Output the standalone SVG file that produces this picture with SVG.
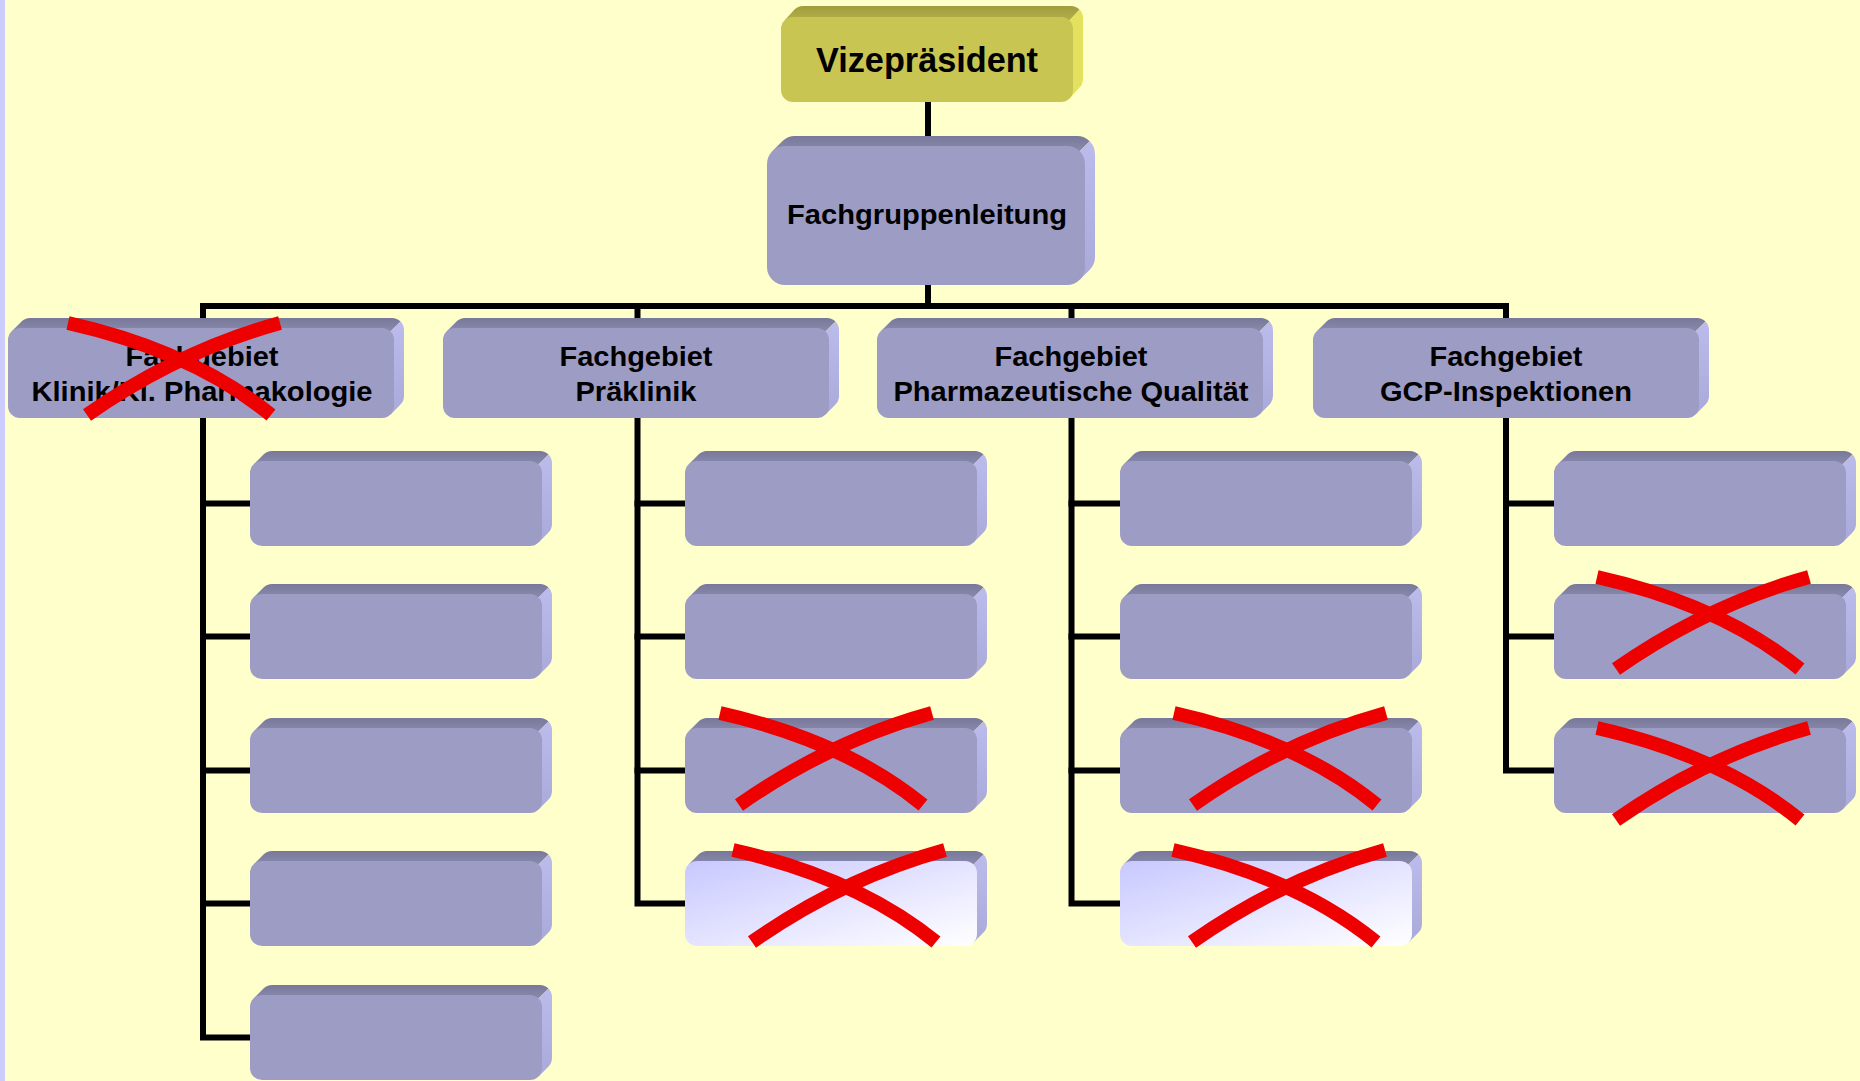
<svg xmlns="http://www.w3.org/2000/svg" xmlns:xlink="http://www.w3.org/1999/xlink" width="1860" height="1081" viewBox="0 0 1860 1081">
<style>
.t{font-family:"Liberation Sans",Arial,sans-serif;font-weight:bold;fill:#000;text-anchor:middle}
.t2{font-size:28px}
.t1{font-size:35px}
.conn{fill:none;stroke:#000;stroke-width:6;stroke-linecap:square;stroke-linejoin:miter}
.x{fill:none;stroke:#EE0000;stroke-width:14}
</style>
<defs>
<linearGradient id="gTop" x1="0" y1="0" x2="0" y2="1"><stop offset="0" stop-color="#78789A"/><stop offset="1" stop-color="#8A8AAE"/></linearGradient>
<linearGradient id="gSide" x1="0" y1="0" x2="0" y2="1"><stop offset="0" stop-color="#BCBCEC"/><stop offset="1" stop-color="#A9A9DA"/></linearGradient>
<linearGradient id="gLight" x1="0" y1="0" x2="1" y2="1"><stop offset="0" stop-color="#C8C8FF"/><stop offset="1" stop-color="#FFFFFF"/></linearGradient>
<linearGradient id="gTopY" x1="0" y1="0" x2="0" y2="1"><stop offset="0" stop-color="#A09C3C"/><stop offset="1" stop-color="#B4B04A"/></linearGradient>
<g id="bxP">
<path fill="url(#gTop)" d="M3.5,3.5 L13.5,-6.5 A12,12 0 0 1 22,-10 L290,-10 A12,12 0 0 1 298.5,-6.5 L288.5,3.5 Z"/>
<path fill="url(#gSide)" d="M288.5,3.5 L298.5,-6.5 A12,12 0 0 1 302,2 L302,63 A12,12 0 0 1 298.5,71.5 L288.5,81.5 Z"/>
<rect width="292" height="85" rx="12" fill="#9D9CC5"/>
</g>
<g id="bxL">
<path fill="url(#gTop)" d="M3.5,3.5 L13.5,-6.5 A12,12 0 0 1 22,-10 L290,-10 A12,12 0 0 1 298.5,-6.5 L288.5,3.5 Z"/>
<path fill="url(#gSide)" d="M288.5,3.5 L298.5,-6.5 A12,12 0 0 1 302,2 L302,63 A12,12 0 0 1 298.5,71.5 L288.5,81.5 Z"/>
<rect width="292" height="85" rx="12" fill="url(#gLight)"/>
</g>
<g id="bxY">
<path fill="url(#gTopY)" d="M3.5,3.5 L13.5,-7.5 A12,12 0 0 1 22,-11 L290,-11 A12,12 0 0 1 298.5,-7.5 L288.5,3.5 Z"/>
<path fill="#E4E15E" d="M288.5,3.5 L298.5,-7.5 A12,12 0 0 1 302,1 L302,62 A12,12 0 0 1 298.5,70.5 L288.5,81.5 Z"/>
<rect width="292" height="85" rx="12" fill="#C9C553"/>
</g>
<g id="bxL2">
<path fill="url(#gTop)" d="M3.5,3.5 L13.5,-6.5 A12,12 0 0 1 22,-10 L384,-10 A12,12 0 0 1 392.5,-6.5 L382.5,3.5 Z"/>
<path fill="url(#gSide)" d="M382.5,3.5 L392.5,-6.5 A12,12 0 0 1 396,2 L396,68 A12,12 0 0 1 392.5,76.5 L382.5,86.5 Z"/>
<rect width="386" height="90" rx="12" fill="#9D9CC5"/>
</g>
<g id="bxFG">
<path fill="url(#gTop)" d="M5.3,5.3 L15.3,-4.7 A18,18 0 0 1 28,-10 L310,-10 A18,18 0 0 1 322.7,-4.7 L312.7,5.3 Z"/>
<path fill="url(#gSide)" d="M312.7,5.3 L322.7,-4.7 A18,18 0 0 1 328,8 L328,111 A18,18 0 0 1 322.7,123.7 L312.7,133.7 Z"/>
<rect width="318" height="139" rx="18" fill="#9D9CC5"/>
</g>
<g id="xm">
<path class="x" d="M0,0 Q124.5,28 203,92"/>
<path class="x" d="M19,92 Q110.5,28 212,0"/>
</g>
</defs>
<rect width="1860" height="1081" fill="#FFFFCC"/>
<rect width="5" height="1081" fill="#CCCCFF"/>
<g id="connectors">
<path class="conn" d="M928,100 V140"/>
<path class="conn" d="M928,280 V306"/>
<path class="conn" d="M203,330 V306 H1506 V330"/>
<path class="conn" d="M637.5,306 V330"/>
<path class="conn" d="M1071.5,306 V330"/>
<path class="conn" d="M203,415 V1037.5 H250"/>
<path class="conn" d="M203,503.5 H250 M203,636.5 H250 M203,770.5 H250 M203,903.5 H250"/>
<path class="conn" d="M637.5,415 V903.5 H685"/>
<path class="conn" d="M637.5,503.5 H685 M637.5,636.5 H685 M637.5,770.5 H685"/>
<path class="conn" d="M1071.5,415 V903.5 H1120"/>
<path class="conn" d="M1071.5,503.5 H1120 M1071.5,636.5 H1120 M1071.5,770.5 H1120"/>
<path class="conn" d="M1506,415 V770.5 H1554"/>
<path class="conn" d="M1506,503.5 H1554 M1506,636.5 H1554"/>
</g>
<g id="n-vize">
<use href="#bxY" x="781" y="17"/>
<text class="t t1" x="927" y="72" textLength="222" lengthAdjust="spacingAndGlyphs">Vizepräsident</text>
</g>
<g id="n-fachgruppenleitung">
<use href="#bxFG" x="767" y="146"/>
<text class="t t2" x="927" y="224" textLength="280" lengthAdjust="spacingAndGlyphs">Fachgruppenleitung</text>
</g>
<g id="n-klinik">
<use href="#bxL2" x="8" y="328"/>
<text class="t t2" x="202" y="366" textLength="153" lengthAdjust="spacingAndGlyphs">Fachgebiet</text>
<text class="t t2" x="202" y="401" textLength="341" lengthAdjust="spacingAndGlyphs">Klinik/Kl. Pharmakologie</text>
<use href="#xm" x="68" y="323"/>
</g>
<g id="n-praeklinik">
<use href="#bxL2" x="443" y="328"/>
<text class="t t2" x="636" y="366" textLength="153" lengthAdjust="spacingAndGlyphs">Fachgebiet</text>
<text class="t t2" x="636" y="401" textLength="121" lengthAdjust="spacingAndGlyphs">Präklinik</text>
</g>
<g id="n-pharm">
<use href="#bxL2" x="877" y="328"/>
<text class="t t2" x="1071" y="366" textLength="153" lengthAdjust="spacingAndGlyphs">Fachgebiet</text>
<text class="t t2" x="1071" y="401" textLength="355" lengthAdjust="spacingAndGlyphs">Pharmazeutische Qualität</text>
</g>
<g id="n-gcp">
<use href="#bxL2" x="1313" y="328"/>
<text class="t t2" x="1506" y="366" textLength="153" lengthAdjust="spacingAndGlyphs">Fachgebiet</text>
<text class="t t2" x="1506" y="401" textLength="252" lengthAdjust="spacingAndGlyphs">GCP-Inspektionen</text>
</g>
<g id="n-a1"><use href="#bxP" x="250" y="461"/></g>
<g id="n-a2"><use href="#bxP" x="250" y="594"/></g>
<g id="n-a3"><use href="#bxP" x="250" y="728"/></g>
<g id="n-a4"><use href="#bxP" x="250" y="861"/></g>
<g id="n-a5"><use href="#bxP" x="250" y="995"/></g>
<g id="n-b1"><use href="#bxP" x="685" y="461"/></g>
<g id="n-b2"><use href="#bxP" x="685" y="594"/></g>
<g id="n-b3"><use href="#bxP" x="685" y="728"/><use href="#xm" x="720" y="713"/></g>
<g id="n-b4"><use href="#bxL" x="685" y="861"/><use href="#xm" x="733" y="850"/></g>
<g id="n-c1"><use href="#bxP" x="1120" y="461"/></g>
<g id="n-c2"><use href="#bxP" x="1120" y="594"/></g>
<g id="n-c3"><use href="#bxP" x="1120" y="728"/><use href="#xm" x="1174" y="713"/></g>
<g id="n-c4"><use href="#bxL" x="1120" y="861"/><use href="#xm" x="1173" y="850"/></g>
<g id="n-d1"><use href="#bxP" x="1554" y="461"/></g>
<g id="n-d2"><use href="#bxP" x="1554" y="594"/><use href="#xm" x="1597" y="577"/></g>
<g id="n-d3"><use href="#bxP" x="1554" y="728"/><use href="#xm" x="1597" y="728"/></g>
</svg>
